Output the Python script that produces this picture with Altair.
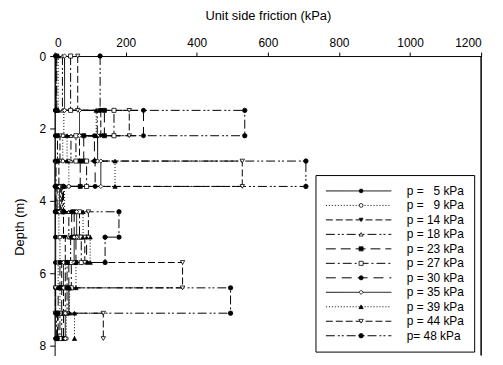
import altair as alt
import pandas as pd

# depth boundaries of the layers (m)
depths = [0, 1.5, 2.2, 2.9, 3.6, 4.3, 5.0, 5.7, 6.4, 7.1, 7.8]

# legend labels (series)
labels = [
    "p = \u00a0\u00a05 kPa", "p = \u00a0\u00a09 kPa", "p = 14 kPa", "p = 18 kPa",
    "p = 23 kPa", "p = 27 kPa", "p = 30 kPa", "p = 35 kPa",
    "p = 39 kPa", "p = 44 kPa", "p= 48 kPa",
]
marker_keys = ["m%02d" % i for i in range(len(labels))]

# unit side friction (kPa) in each layer, per series
f_p5 = [2, 2, 2, 1, 1, 2, 3, 2, 3, 2]
f_p9 = [5, 26, 23, 40, 10, 12, 15, 10, 15, 33]
f_p14 = [4, 130, 70, 12, 4, 25, 30, 20, 25, 10]
f_p18 = [22, 120, 46, 4, 17, 40, 45, 30, 35, 20]
f_p23 = [6, 140, 82, 72, 7, 55, 60, 40, 20, 25]
f_p27 = [45, 167, 60, 90, 22, 70, 75, 47, 30, 15]
f_p30 = [3, 250, 112, 114, 3, 48, 90, 15, 10, 8]
f_p35 = [28, 70, 121, 130, 14, 62, 55, 25, 40, 30]
f_p39 = [10, 117, 35, 170, 28, 80, 100, 60, 42, 56]
f_p44 = [65, 210, 15, 528, 20, 95, 85, 360, 2, 137]
f_p48 = [128, 535, 8, 707, 25, 181, 142, 35, 495, 5]

friction = [f_p5, f_p9, f_p14, f_p18, f_p23, f_p27, f_p30, f_p35, f_p39, f_p44, f_p48]

# right-hand frame line of the plot (kPa, depth range in m)
frame_x = [1200]
frame_depth = [0, 8.27]

dashes = [
    [1, 0], [1, 2], [7, 3], [9, 3, 2, 2, 2, 3], [10, 5], [9, 3, 2, 3],
    [10, 6], [1, 0], [1, 2], [7, 3], [9, 3, 2, 2, 2, 3],
]
shapes = ["circle", "circle", "triangle-down", "triangle-up", "square", "square",
          "circle", "diamond", "triangle-up", "triangle-down", "circle"]
fills = ["black", "white", "black", "white", "black", "white",
         "black", "white", "black", "white", "black"]
strokes = ["black"] * len(labels)
sizes = [14, 20, 20, 20, 20, 20, 22, 20, 20, 20, 22]

rows = []
for lab, mk, vals in zip(labels, marker_keys, friction):
    k = 0
    for i, v in enumerate(vals):
        for d in (depths[i], depths[i + 1]):
            rows.append({"series": lab, "marker": mk, "order": k,
                         "friction": v, "depth": d})
            k += 1
df = pd.DataFrame(rows)
frame_df = pd.DataFrame({"fx": frame_x, "d1": [frame_depth[0]],
                         "d2": [frame_depth[1]]})

FONT = "Liberation Sans"

x_scale = alt.Scale(domain=[0, 1200], nice=False, zero=False)
y_scale = alt.Scale(domain=[0, 8.27], nice=False, zero=False, reverse=True)

x = alt.X(
    "friction:Q", scale=x_scale,
    axis=alt.Axis(orient="top", values=[0, 200, 400, 600, 800, 1000, 1200],
                  format="d", title="Unit side friction (kPa)", grid=False,
                  tickSize=4, labelPadding=3, titlePadding=14),
)
y = alt.Y(
    "depth:Q", scale=y_scale,
    axis=alt.Axis(values=[0, 2, 4, 6, 8], title="Depth (m)", grid=False,
                  tickSize=5, labelPadding=4, titleX=-35, titleY=172,
                  titleBaseline="middle"),
)

line_legend = alt.Legend(
    title=None, orient="none", legendX=263, legendY=120,
    symbolType="stroke", symbolSize=4356, symbolStrokeWidth=1,
    symbolStrokeColor="black", labelFont=FONT, labelFontSize=12,
    labelColor="black", padding=10, strokeColor="black", fillColor="white",
    clipHeight=12, rowPadding=2.6, labelOffset=15, labelLimit=200, zindex=0,
)
marker_legend = alt.Legend(
    title=None, orient="none", legendX=303, legendY=130,
    symbolStrokeWidth=0.8, symbolOpacity=1,
    labelFont=FONT, labelFontSize=12, labelColor="rgba(0,0,0,0)",
    padding=0, clipHeight=12, rowPadding=2.6, labelLimit=200, zindex=1,
)

lines = alt.Chart(df).mark_line(color="black", strokeWidth=1).encode(
    x=x, y=y,
    strokeDash=alt.StrokeDash("series:N", sort=labels,
                              scale=alt.Scale(domain=labels, range=dashes),
                              legend=line_legend),
    order=alt.Order("order:Q"),
)

points = alt.Chart(df).mark_point(filled=True, strokeWidth=0.8,
                                  opacity=1).encode(
    x=x, y=y,
    shape=alt.Shape("marker:N", sort=marker_keys,
                    scale=alt.Scale(domain=marker_keys, range=shapes),
                    legend=marker_legend),
    fill=alt.Fill("marker:N", sort=marker_keys,
                  scale=alt.Scale(domain=marker_keys, range=fills),
                  legend=marker_legend),
    stroke=alt.Stroke("marker:N", sort=marker_keys,
                      scale=alt.Scale(domain=marker_keys, range=strokes),
                      legend=marker_legend),
    size=alt.Size("marker:N", sort=marker_keys,
                  scale=alt.Scale(domain=marker_keys, range=sizes),
                  legend=marker_legend),
)

frame = alt.Chart(frame_df).mark_rule(strokeWidth=1.5, opacity=1).encode(
    x=alt.X("fx:Q", scale=x_scale),
    y=alt.Y("d1:Q", scale=y_scale),
    y2=alt.Y2("d2:Q"),
    stroke=alt.value("black"),
)

chart = alt.layer(lines, points, frame).properties(
    width=430, height=302,
    padding={"left": 47, "top": 47, "right": 14, "bottom": 0},
    autosize=alt.AutoSizeParams(type="none"),
).configure_view(stroke=None).configure_axis(
    labelFont=FONT, titleFont=FONT, labelFontSize=12, titleFontSize=13,
    titleFontWeight="normal", labelColor="black", titleColor="black",
    domainColor="black", tickColor="black", domainWidth=1, tickWidth=1,
).configure_legend(labelFont=FONT)

chart.save("out.html", embed_options={"renderer": "svg", "actions": False})
